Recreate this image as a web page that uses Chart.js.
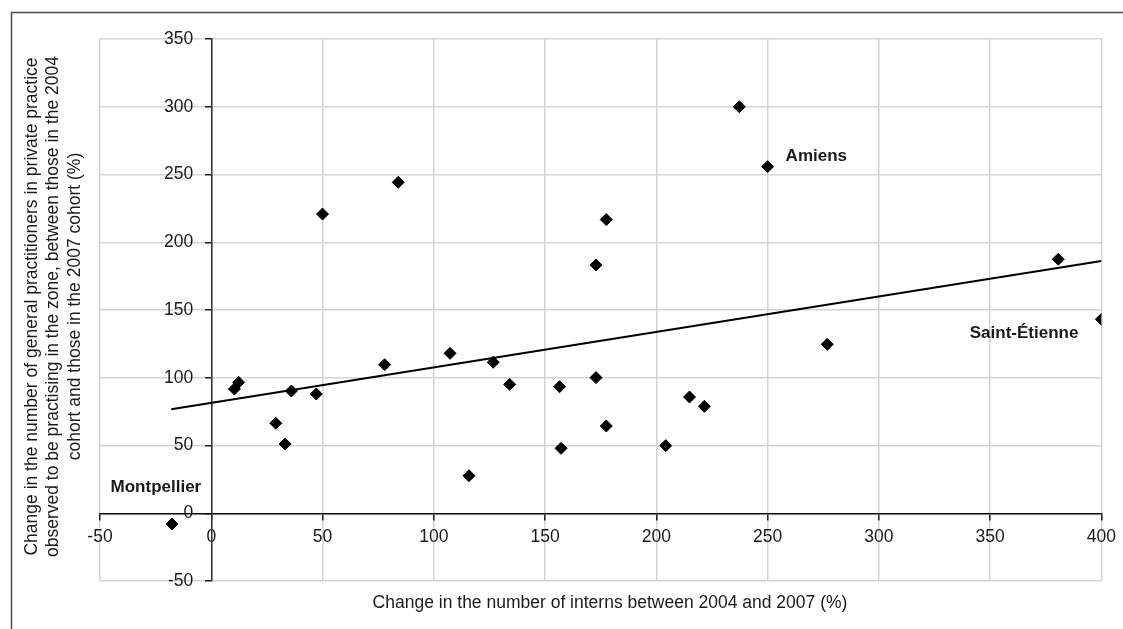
<!DOCTYPE html>
<html><head><meta charset="utf-8">
<script src="https://cdn.jsdelivr.net/npm/chart.js@4/dist/chart.umd.min.js"></script>
<style>html,body{margin:0;padding:0;background:#fff;overflow:hidden}#wrap{width:1123px;height:629px;position:relative}</style>
</head><body><div id="wrap"><canvas id="c"></canvas></div>
<script>
// ---- data ----
const internsChange = [-17.7, 10.4, 12.3, 29.0, 33.2, 36.0, 47.2, 50.0, 77.9, 84.0, 107.3, 115.8, 126.7, 134.1, 156.5, 157.2, 172.9, 172.9, 177.5, 177.5, 204.2, 214.9, 221.6, 237.3, 250.0, 276.8, 380.6, 400.0];
const gpChange      = [-7.9, 91.7, 96.6, 66.4, 51.1, 90.2, 88.0, 220.8, 109.6, 244.2, 118.0, 27.7, 111.4, 95.1, 93.4, 47.9, 100.1, 183.2, 64.4, 216.7, 49.9, 85.8, 78.9, 300.0, 255.8, 124.7, 187.4, 143.1];
const pointNames    = ['Montpellier', '', '', '', '', '', '', '', '', '', '', '', '', '', '', '', '', '', '', '', '', '', '', '', 'Amiens', '', '', 'Saint-Étienne'];
const trendX = [-18, 400];
const trendY = [76.7, 186.2];
const xTickValues = [-50, 0, 50, 100, 150, 200, 250, 300, 350, 400];
const yTickValues = [-50, 0, 50, 100, 150, 200, 250, 300, 350];
const xTitle = 'Change in the number of interns between 2004 and 2007 (%)';
const yTitleLines = [
  'Change in the number of general practitioners in private practice',
  'observed to be practising in the zone, between those in the 2004',
  'cohort and those in the 2007 cohort (%)'
];
</script>
<script>
const FONT = '"Liberation Sans", Arial, sans-serif';

const scatterPts = internsChange.map((x, i) => ({x: x, y: gpChange[i]}));
const trendPts = trendX.map((x, i) => ({x: x, y: trendY[i]}));

const decor = {
  id: 'decor',
  beforeDraw(chart) {
    // place y tick labels to the left of the value-positioned axis
    const ys = chart.scales.y;
    const items = ys.getLabelItems();
    if (!items._fixed) {
      const axisPx = chart.scales.x.getPixelForValue(0);
      const target = axisPx - 6 - 12;
      items.forEach(it => {
        if (it.options.translation[0] > target + 1) it.options.translation[0] = target;
      });
      items._fixed = true;
    }
  },
  afterDraw(chart) {
    const ctx = chart.ctx;
    ctx.save();
    // outer frame (left and top visible)
    ctx.strokeStyle = '#4d4d4d';
    ctx.lineWidth = 1.5;
    ctx.beginPath();
    ctx.moveTo(11.5, 640);
    ctx.lineTo(11.5, 12.5);
    ctx.lineTo(1130, 12.5);
    ctx.stroke();
    // axis titles
    ctx.fillStyle = '#1a1a1a';
    ctx.font = '17.5px ' + FONT;
    ctx.textAlign = 'center';
    ctx.textBaseline = 'middle';
    ctx.fillText(xTitle, 610, 603);
    yTitleLines.forEach((ln, i) => {
      ctx.save();
      ctx.translate(32 + i * 21.5, 306.5);
      ctx.rotate(-Math.PI / 2);
      ctx.fillText(ln, 0, 0);
      ctx.restore();
    });
    // point names
    ctx.font = 'bold 17px ' + FONT;
    const meta = chart.getDatasetMeta(0);
    pointNames.forEach((name, i) => {
      if (!name) return;
      const el = meta.data[i];
      if (name === 'Montpellier') {
        ctx.textAlign = 'center';
        ctx.fillText(name, el.x - 16, el.y - 37);
      } else if (name === 'Amiens') {
        ctx.textAlign = 'left';
        ctx.fillText(name, el.x + 18, el.y - 10);
      } else {
        ctx.textAlign = 'right';
        ctx.fillText(name, el.x - 23, el.y + 14);
      }
    });
    ctx.restore();
  }
};

new Chart(document.getElementById('c'), {
  type: 'scatter',
  data: {
    datasets: [
      {
        label: 'Zones',
        data: scatterPts,
        pointStyle: 'rectRot',
        pointRadius: 6,
        pointHoverRadius: 6,
        backgroundColor: '#000',
        borderColor: '#000',
        borderWidth: 1,
        order: 1
      },
      {
        label: 'Trend',
        type: 'line',
        data: trendPts,
        borderColor: '#000',
        borderWidth: 2,
        pointRadius: 0,
        fill: false,
        order: 2
      }
    ]
  },
  plugins: [decor],
  options: {
    responsive: true,
    maintainAspectRatio: false,
    animation: false,
    layout: {padding: {left: 100, top: 39, right: 17, bottom: 48}},
    plugins: {legend: {display: false}, tooltip: {enabled: false}, title: {display: false}},
    scales: {
      x: {
        type: 'linear',
        position: {y: 0},
        min: -50, max: 400,
        afterBuildTicks: s => { s.ticks = xTickValues.map(v => ({value: v})); },
        grid: {color: '#d4d4d4', lineWidth: 1.5, tickColor: '#222', tickLength: 6, drawTicks: true},
        border: {color: '#111', width: 1.5},
        ticks: {color: '#1a1a1a', font: {family: FONT, size: 17.5}, padding: 7, maxRotation: 0, autoSkip: false}
      },
      y: {
        type: 'linear',
        position: {x: 0},
        min: -50, max: 350,
        afterBuildTicks: s => { s.ticks = yTickValues.map(v => ({value: v})); },
        grid: {color: '#d4d4d4', lineWidth: 1.5, tickColor: '#222', tickLength: 6, drawTicks: true},
        border: {color: '#333', width: 1.5},
        ticks: {color: '#1a1a1a', font: {family: FONT, size: 17.5}, padding: 12, autoSkip: false}
      }
    }
  }
});
</script>
</body></html>
